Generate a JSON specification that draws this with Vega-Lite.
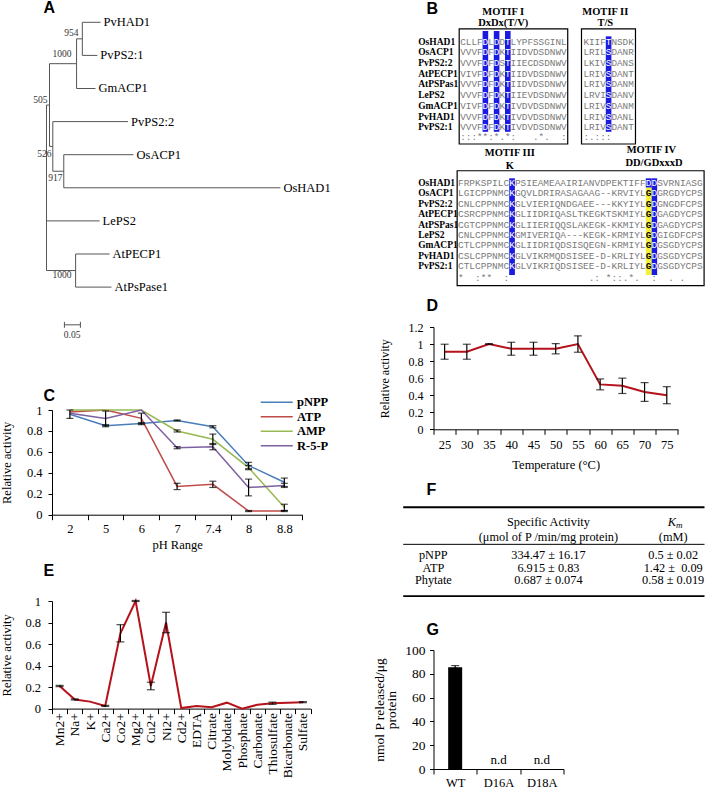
{
"$schema":"https://vega.github.io/schema/vega-lite/v6.json",
"background":"white",
"padding":{"left":0,"top":0,"right":0,"bottom":0},
"spacing":41.5,
"resolve":{"scale":{"color":"independent"},"legend":{"color":"independent"}},
"config":{
 "view":{"stroke":null},
 "font":"Liberation Serif",
 "text":{"font":"Liberation Serif","color":"#000"},
 "axis":{"labelFont":"Liberation Serif","titleFont":"Liberation Serif","labelColor":"#000","titleColor":"#000","domainColor":"#000","tickColor":"#000","grid":false,"titleFontWeight":"normal","labelFontSize":12.5,"titleFontSize":12.5,"tickSize":4,"labelOverlap":false,"labelBound":false,"domainWidth":1,"tickWidth":1},
 "axisY":{"labelOverlap":false},
 "axisQuantitative":{"labelOverlap":false},
 "title":{"font":"Liberation Sans","fontSize":16,"fontWeight":"bold","anchor":"start","frame":"group","color":"#000","offset":0,"baseline":"alphabetic"}
},
"hconcat":[
{"vconcat":[
{
 "width":273.2,"height":317,
 "title":{"text":"A","dx":-8.5,"dy":9,"offset":0},
 "layer":[
  {"data":{"values":[
   {"x":0.112,"x2":0.169,"y":1,"y2":1},
   {"x":0.112,"x2":0.159,"y":2,"y2":2},
   {"x":0.094,"x2":0.112,"y":1.5,"y2":1.5},
   {"x":0.094,"x2":0.153,"y":3,"y2":3},
   {"x":0.0094,"x2":0.094,"y":2.25,"y2":2.25},
   {"x":0.0197,"x2":0.255,"y":4,"y2":4},
   {"x":0.054,"x2":0.272,"y":5,"y2":5},
   {"x":0.054,"x2":0.731,"y":6,"y2":6},
   {"x":0.0197,"x2":0.054,"y":5.5,"y2":5.5},
   {"x":0.0094,"x2":0.0197,"y":4.75,"y2":4.75},
   {"x":0,"x2":0.0094,"y":3.5,"y2":3.5},
   {"x":0,"x2":0.166,"y":7,"y2":7},
   {"x":0.091,"x2":0.197,"y":8,"y2":8},
   {"x":0.091,"x2":0.203,"y":9,"y2":9},
   {"x":0,"x2":0.091,"y":8.5,"y2":8.5},
   {"x":0.112,"x2":0.112,"y":1,"y2":2},
   {"x":0.094,"x2":0.094,"y":1.5,"y2":3},
   {"x":0.0094,"x2":0.0094,"y":2.25,"y2":4.75},
   {"x":0.0197,"x2":0.0197,"y":4,"y2":5.5},
   {"x":0.054,"x2":0.054,"y":5,"y2":6},
   {"x":0,"x2":0,"y":3.5,"y2":8.5},
   {"x":0.091,"x2":0.091,"y":8,"y2":9},
   {"x":0.056,"x2":0.106,"y":10.14,"y2":10.14},
   {"x":0.056,"x2":0.056,"y":10.05,"y2":10.23},
   {"x":0.106,"x2":0.106,"y":10.05,"y2":10.23}
  ]},
  "mark":{"type":"rule","color":"#555","strokeWidth":1},
  "encoding":{
   "x":{"field":"x","type":"quantitative","scale":{"domain":[0.0172,0.871],"nice":false,"zero":false},"axis":null},
   "x2":{"field":"x2"},
   "y":{"field":"y","type":"quantitative","scale":{"domain":[0.5378,10.115],"reverse":true,"nice":false,"zero":false},"axis":null},
   "y2":{"field":"y2"}}},
  {"data":{"values":[
   {"name":"PvHAD1","x":0.169,"y":1},{"name":"PvPS2:1","x":0.159,"y":2},{"name":"GmACP1","x":0.153,"y":3},
   {"name":"PvPS2:2","x":0.255,"y":4},{"name":"OsACP1","x":0.272,"y":5},{"name":"OsHAD1","x":0.731,"y":6},
   {"name":"LePS2","x":0.166,"y":7},{"name":"AtPECP1","x":0.197,"y":8},{"name":"AtPsPase1","x":0.203,"y":9}]},
   "mark":{"type":"text","align":"left","baseline":"middle","dx":3,"fontSize":12.5},
   "encoding":{
    "x":{"field":"x","type":"quantitative","scale":{"domain":[0.0172,0.871],"nice":false,"zero":false},"axis":null},
    "y":{"field":"y","type":"quantitative","scale":{"domain":[0.5378,10.115],"reverse":true,"nice":false,"zero":false},"axis":null},
    "text":{"field":"name"}}},
  {"data":{"values":[
   {"t":"954","x":0.1,"y":1.32},{"t":"1000","x":0.078,"y":1.96},{"t":"505","x":0.003,"y":3.35},
   {"t":"526","x":0.0156,"y":4.98},{"t":"917","x":0.05,"y":5.7},{"t":"1000","x":0.078,"y":8.63},{"t":"0.05","x":0.106,"y":10.45}]},
   "mark":{"type":"text","align":"right","baseline":"middle","fontSize":9.5,"color":"#333"},
   "encoding":{
    "x":{"field":"x","type":"quantitative","scale":{"domain":[0.0172,0.871],"nice":false,"zero":false},"axis":null},
    "y":{"field":"y","type":"quantitative","scale":{"domain":[0.5378,10.115],"reverse":true,"nice":false,"zero":false},"axis":null},
    "text":{"field":"t"}}}
 ]
},
{
 "width":250.2,"height":104.7,
 "title":{"text":"C","dx":-8.5,"dy":8,"offset":0},
 "data":{"values":[
  {"pH":"2","s":"pNPP","v":0.96,"e":0.04},{"pH":"5","s":"pNPP","v":0.85,"e":0.01},{"pH":"6","s":"pNPP","v":0.87,"e":0.01},{"pH":"7","s":"pNPP","v":0.9,"e":0.005},{"pH":"7.4","s":"pNPP","v":0.84,"e":0.01},{"pH":"8","s":"pNPP","v":0.47,"e":0.03},{"pH":"8.8","s":"pNPP","v":0.31,"e":0.04},
  {"pH":"2","s":"ATP","v":0.98,"e":0},{"pH":"5","s":"ATP","v":1.0,"e":0},{"pH":"6","s":"ATP","v":0.92,"e":0.05},{"pH":"7","s":"ATP","v":0.27,"e":0.03},{"pH":"7.4","s":"ATP","v":0.29,"e":0.03},{"pH":"8","s":"ATP","v":0.035,"e":0.005},{"pH":"8.8","s":"ATP","v":0.035,"e":0.005},
  {"pH":"2","s":"AMP","v":1.0,"e":0},{"pH":"5","s":"AMP","v":1.0,"e":0},{"pH":"6","s":"AMP","v":1.0,"e":0},{"pH":"7","s":"AMP","v":0.8,"e":0.01},{"pH":"7.4","s":"AMP","v":0.72,"e":0.05},{"pH":"8","s":"AMP","v":0.45,"e":0.02},{"pH":"8.8","s":"AMP","v":0.07,"e":0.03},
  {"pH":"2","s":"R-5-P","v":0.97,"e":0},{"pH":"5","s":"R-5-P","v":0.92,"e":0.07},{"pH":"6","s":"R-5-P","v":1.0,"e":0},{"pH":"7","s":"R-5-P","v":0.64,"e":0.01},{"pH":"7.4","s":"R-5-P","v":0.65,"e":0.03},{"pH":"8","s":"R-5-P","v":0.26,"e":0.08},{"pH":"8.8","s":"R-5-P","v":0.28,"e":0.02}
 ]},
 "layer":[
  {"mark":{"type":"line","strokeWidth":1.5},
   "encoding":{
    "x":{"field":"pH","type":"nominal","sort":["2","5","6","7","7.4","8","8.8"],"scale":{"type":"band","paddingInner":0,"paddingOuter":0},"axis":{"title":"pH Range","labelAngle":0,"tickBand":"extent","tickSize":5,"labelPadding":3,"titlePadding":3,"labelOverlap":false}},
    "y":{"field":"v","type":"quantitative","scale":{"domain":[0,1],"nice":false},"axis":{"title":"Relative activity","values":[0,0.2,0.4,0.6,0.8,1],"format":".1~f","labelPadding":6,"titlePadding":12.5,"labelOverlap":false}},
    "color":{"field":"s","type":"nominal","scale":{"domain":["pNPP","ATP","AMP","R-5-P"],"range":["#4a7ebb","#be4b48","#98b954","#7d60a0"]},
     "legend":{"title":null,"orient":"none","legendX":206.5,"legendY":-14,"symbolType":"M-1,0H7","symbolSize":64,"symbolStrokeWidth":1.5,"labelFont":"Liberation Serif","labelFontWeight":"bold","labelFontSize":12.5,"labelColor":"#000","rowPadding":1.5,"labelOffset":26,"padding":0}}}},
  {"transform":[{"filter":"datum.e > 0"}],
   "mark":{"type":"errorbar","color":"#000","ticks":{"size":7},"thickness":1.2},
   "encoding":{
    "x":{"field":"pH","type":"nominal","sort":["2","5","6","7","7.4","8","8.8"],"axis":{"title":"pH Range","labelAngle":0,"tickBand":"extent","tickSize":5,"labelPadding":3,"titlePadding":3,"labelOverlap":false}},
    "y":{"field":"v","type":"quantitative","axis":{"title":"Relative activity","values":[0,0.2,0.4,0.6,0.8,1],"format":".1~f","labelPadding":6,"titlePadding":12.5,"labelOverlap":false}},
    "yError":{"field":"e"}}}
 ]
},
{
 "width":258.5,"height":107.6,
 "title":{"text":"E","dx":-8.5,"dy":-16,"offset":0},
 "data":{"values":[
  {"c":"Mn2+","v":0.21,"e":0.005},{"c":"Na+","v":0.085,"e":0.005},{"c":"K+","v":0.065,"e":0},{"c":"Ca2+","v":0.025,"e":0.005},
  {"c":"Co2+","v":0.7,"e":0.08},{"c":"Mg2+","v":1.0,"e":0.005},{"c":"Cu2+","v":0.21,"e":0.035},{"c":"Ni2+","v":0.8,"e":0.095},
  {"c":"Cd2+","v":0.005,"e":0},{"c":"EDTA","v":0.025,"e":0},{"c":"Citrate","v":0.012,"e":0},{"c":"Molybdate","v":0.055,"e":0},
  {"c":"Phosphate","v":0.0,"e":0},{"c":"Carbonate","v":0.035,"e":0},{"c":"Thiosulfate","v":0.05,"e":0.01},{"c":"Bicarbonate","v":0.055,"e":0},{"c":"Sulfate","v":0.06,"e":0.005}
 ]},
 "layer":[
  {"mark":{"type":"line","color":"#b5121b","strokeWidth":2},
   "encoding":{
    "x":{"field":"c","type":"nominal","sort":["Mn2+","Na+","K+","Ca2+","Co2+","Mg2+","Cu2+","Ni2+","Cd2+","EDTA","Citrate","Molybdate","Phosphate","Carbonate","Thiosulfate","Bicarbonate","Sulfate"],"scale":{"type":"band","paddingInner":0,"paddingOuter":0},"axis":{"title":null,"labelAngle":-90,"tickBand":"extent","tickSize":5,"labelPadding":-1,"labelFontSize":13.5,"labelOverlap":false}},
    "y":{"field":"v","type":"quantitative","scale":{"domain":[0,1],"nice":false},"axis":{"title":"Relative activity","values":[0,0.2,0.4,0.6,0.8,1],"format":".1~f","labelPadding":7.5,"titlePadding":11.5,"labelOverlap":false}}}},
  {"transform":[{"filter":"datum.e > 0"}],
   "mark":{"type":"errorbar","color":"#000","ticks":{"size":8},"thickness":1.2},
   "encoding":{
    "x":{"field":"c","type":"nominal","sort":["Mn2+","Na+","K+","Ca2+","Co2+","Mg2+","Cu2+","Ni2+","Cd2+","EDTA","Citrate","Molybdate","Phosphate","Carbonate","Thiosulfate","Bicarbonate","Sulfate"],"axis":{"title":null,"labelAngle":-90,"tickBand":"extent","tickSize":5,"labelPadding":-1,"labelFontSize":13.5,"labelOverlap":false}},
    "y":{"field":"v","type":"quantitative","axis":{"title":"Relative activity","values":[0,0.2,0.4,0.6,0.8,1],"format":".1~f","labelPadding":7.5,"titlePadding":11.5,"labelOverlap":false}},
    "yError":{"field":"e"}}}
 ]
}
],"bounds":"flush","spacing":86,"resolve":{"scale":{"color":"independent"},"legend":{"color":"independent"}}},
{"vconcat":[
{
 "width":271,"height":309.7,
 "title":{"text":"B","dx":-7,"dy":10,"offset":0},
 "layer":[
  {"data":{"values":[
   {"name":"OsHAD1","row":0,"s1":"CLLF","a":"D","s2":"L","b":"D","s3":"D","c":"T","s4":"LYPFSSGINL","t1":"KIIF","d":"T","t2":"NSDK"},
   {"name":"OsACP1","row":1,"s1":"VVVF","a":"D","s2":"F","b":"D","s3":"K","c":"T","s4":"IIDVDSDNWV","t1":"LRIL","d":"S","t2":"DANR"},
   {"name":"PvPS2:2","row":2,"s1":"VVVF","a":"D","s2":"F","b":"D","s3":"S","c":"T","s4":"IIECDSDNWV","t1":"LKIV","d":"S","t2":"DANS"},
   {"name":"AtPECP1","row":3,"s1":"VIVF","a":"D","s2":"F","b":"D","s3":"K","c":"T","s4":"IIDVDSDNWV","t1":"LRIV","d":"S","t2":"DANT"},
   {"name":"AtPSPas1","row":4,"s1":"VVVF","a":"D","s2":"F","b":"D","s3":"K","c":"T","s4":"IIDVDSDNWV","t1":"LRIV","d":"S","t2":"DANM"},
   {"name":"LePS2","row":5,"s1":"VVVF","a":"D","s2":"F","b":"D","s3":"K","c":"T","s4":"IIEVDSDNWV","t1":"LRVI","d":"S","t2":"DANV"},
   {"name":"GmACP1","row":6,"s1":"VIVF","a":"D","s2":"F","b":"D","s3":"K","c":"T","s4":"IVDVDSDNWV","t1":"LRIV","d":"S","t2":"DANM"},
   {"name":"PvHAD1","row":7,"s1":"VVVF","a":"D","s2":"F","b":"D","s3":"K","c":"T","s4":"IVDVDSDNWV","t1":"LRIV","d":"S","t2":"DANL"},
   {"name":"PvPS2:1","row":8,"s1":"VVVF","a":"D","s2":"F","b":"D","s3":"K","c":"T","s4":"IVDVDSDNWV","t1":"LRIV","d":"S","t2":"DANT"},
   {"name":"","row":8.95,"s1":":::**:*.*:\u00a0\u00a0\u00a0.*.\u00a0\u00a0:","a":"","s2":"","b":"","s3":"","c":"","s4":"","t1":"\u00a0\u00a0\u00a0:.:::","d":"","t2":""}
  ]},
  "layer":[
   {"data":{"values":[
     {"c0":4,"c1":5,"r0":-1.0,"r1":8.42,"k":"b"},
     {"c0":6,"c1":7,"r0":-1.0,"r1":8.42,"k":"b"},
     {"c0":8,"c1":9,"r0":-1.0,"r1":8.42,"k":"b"},
     {"c0":26,"c1":27,"r0":-0.5,"r1":8.42,"k":"b"}]},
    "mark":{"type":"rect"},
    "encoding":{
     "x":{"field":"c0","type":"quantitative","scale":{"domain":[-4.768,43.625],"nice":false,"zero":false},"axis":null},
     "x2":{"field":"c1"},
     "y":{"field":"r0","type":"quantitative","scale":{"domain":[-3.243,25.701],"reverse":true,"nice":false,"zero":false},"axis":null},
     "y2":{"field":"r1"},
     "color":{"field":"k","type":"nominal","scale":{"domain":["b","y"],"range":["#1a1ae0","#f2f23a"]},"legend":null}}},
   {"data":{"values":[{"c0":-0.18,"c1":19.2,"r0":-1.19,"r1":9.56},{"c0":21.66,"c1":31.3,"r0":-1.19,"r1":9.56}]},
    "mark":{"type":"rect","fillOpacity":0,"stroke":"#000","strokeWidth":1.2},
    "encoding":{
     "x":{"field":"c0","type":"quantitative","scale":{"domain":[-4.768,43.625],"nice":false,"zero":false},"axis":null},
     "x2":{"field":"c1"},
     "y":{"field":"r0","type":"quantitative","scale":{"domain":[-3.243,25.701],"reverse":true,"nice":false,"zero":false},"axis":null},
     "y2":{"field":"r1"}}},
   {"mark":{"type":"text","font":"Liberation Mono","fontSize":9.33,"align":"left","baseline":"middle","color":"#7a7a7a"},
    "encoding":{"x":{"datum":0,"type":"quantitative","scale":{"domain":[-4.768,43.625],"nice":false,"zero":false},"axis":null},
     "y":{"field":"row","type":"quantitative","scale":{"domain":[-3.243,25.701],"reverse":true,"nice":false,"zero":false},"axis":null},
     "text":{"field":"s1"}}},
   {"mark":{"type":"text","font":"Liberation Mono","fontSize":9.33,"align":"left","baseline":"middle","color":"#7a7a7a"},
    "encoding":{"x":{"datum":5,"type":"quantitative","scale":{"domain":[-4.768,43.625],"nice":false,"zero":false},"axis":null},
     "y":{"field":"row","type":"quantitative","scale":{"domain":[-3.243,25.701],"reverse":true,"nice":false,"zero":false},"axis":null},
     "text":{"field":"s2"}}},
   {"mark":{"type":"text","font":"Liberation Mono","fontSize":9.33,"align":"left","baseline":"middle","color":"#7a7a7a"},
    "encoding":{"x":{"datum":7,"type":"quantitative","scale":{"domain":[-4.768,43.625],"nice":false,"zero":false},"axis":null},
     "y":{"field":"row","type":"quantitative","scale":{"domain":[-3.243,25.701],"reverse":true,"nice":false,"zero":false},"axis":null},
     "text":{"field":"s3"}}},
   {"mark":{"type":"text","font":"Liberation Mono","fontSize":9.33,"align":"left","baseline":"middle","color":"#7a7a7a"},
    "encoding":{"x":{"datum":9,"type":"quantitative","scale":{"domain":[-4.768,43.625],"nice":false,"zero":false},"axis":null},
     "y":{"field":"row","type":"quantitative","scale":{"domain":[-3.243,25.701],"reverse":true,"nice":false,"zero":false},"axis":null},
     "text":{"field":"s4"}}},
   {"mark":{"type":"text","font":"Liberation Mono","fontSize":9.33,"align":"left","baseline":"middle","color":"#7a7a7a"},
    "encoding":{"x":{"datum":22,"type":"quantitative","scale":{"domain":[-4.768,43.625],"nice":false,"zero":false},"axis":null},
     "y":{"field":"row","type":"quantitative","scale":{"domain":[-3.243,25.701],"reverse":true,"nice":false,"zero":false},"axis":null},
     "text":{"field":"t1"}}},
   {"mark":{"type":"text","font":"Liberation Mono","fontSize":9.33,"align":"left","baseline":"middle","color":"#7a7a7a"},
    "encoding":{"x":{"datum":27,"type":"quantitative","scale":{"domain":[-4.768,43.625],"nice":false,"zero":false},"axis":null},
     "y":{"field":"row","type":"quantitative","scale":{"domain":[-3.243,25.701],"reverse":true,"nice":false,"zero":false},"axis":null},
     "text":{"field":"t2"}}},
   {"mark":{"type":"text","font":"Liberation Mono","fontSize":9.33,"align":"left","baseline":"middle","color":"#fff"},
    "encoding":{"x":{"datum":4,"type":"quantitative","scale":{"domain":[-4.768,43.625],"nice":false,"zero":false},"axis":null},
     "y":{"field":"row","type":"quantitative","scale":{"domain":[-3.243,25.701],"reverse":true,"nice":false,"zero":false},"axis":null},
     "text":{"field":"a"}}},
   {"mark":{"type":"text","font":"Liberation Mono","fontSize":9.33,"align":"left","baseline":"middle","color":"#fff"},
    "encoding":{"x":{"datum":6,"type":"quantitative","scale":{"domain":[-4.768,43.625],"nice":false,"zero":false},"axis":null},
     "y":{"field":"row","type":"quantitative","scale":{"domain":[-3.243,25.701],"reverse":true,"nice":false,"zero":false},"axis":null},
     "text":{"field":"b"}}},
   {"mark":{"type":"text","font":"Liberation Mono","fontSize":9.33,"align":"left","baseline":"middle","color":"#fff"},
    "encoding":{"x":{"datum":8,"type":"quantitative","scale":{"domain":[-4.768,43.625],"nice":false,"zero":false},"axis":null},
     "y":{"field":"row","type":"quantitative","scale":{"domain":[-3.243,25.701],"reverse":true,"nice":false,"zero":false},"axis":null},
     "text":{"field":"c"}}},
   {"mark":{"type":"text","font":"Liberation Mono","fontSize":9.33,"align":"left","baseline":"middle","color":"#fff"},
    "encoding":{"x":{"datum":26,"type":"quantitative","scale":{"domain":[-4.768,43.625],"nice":false,"zero":false},"axis":null},
     "y":{"field":"row","type":"quantitative","scale":{"domain":[-3.243,25.701],"reverse":true,"nice":false,"zero":false},"axis":null},
     "text":{"field":"d"}}},
   {"mark":{"type":"text","font":"Liberation Serif","fontWeight":"bold","fontSize":9.5,"align":"left","baseline":"middle","color":"#000"},
    "encoding":{"x":{"datum":-7.5,"type":"quantitative","scale":{"domain":[-4.768,43.625],"nice":false,"zero":false},"axis":null},
     "y":{"field":"row","type":"quantitative","scale":{"domain":[-3.243,25.701],"reverse":true,"nice":false,"zero":false},"axis":null},
     "text":{"field":"name"}}},
   {"data":{"values":[{"t":"MOTIF I","c":7.68,"r":-2.8},{"t":"DxDx(T/V)","c":7.68,"r":-1.75},{"t":"MOTIF II","c":25.91,"r":-2.8},{"t":"T/S","c":25.91,"r":-1.75}]},
    "mark":{"type":"text","font":"Liberation Serif","fontWeight":"bold","fontSize":10.5,"align":"center","baseline":"middle","color":"#000"},
    "encoding":{"x":{"field":"c","type":"quantitative","scale":{"domain":[-4.768,43.625],"nice":false,"zero":false},"axis":null},
     "y":{"field":"r","type":"quantitative","scale":{"domain":[-3.243,25.701],"reverse":true,"nice":false,"zero":false},"axis":null},
     "text":{"field":"t"}}}
  ]},
  {"data":{"values":[
   {"name":"OsHAD1","row":0,"u1":"FRPKSPILC","a":"K","u2":"PSIEAMEAAIRIANVDPEKTIFF","b":"D","g":"","c":"D","u3":"SVRNIASG"},
   {"name":"OsACP1","row":1,"u1":"LGICPPNMC","a":"K","u2":"GQVLDRIRASAGAAG--KRVIYL","b":"","g":"G","c":"D","u3":"GRGDYCPS"},
   {"name":"PvPS2:2","row":2,"u1":"CNLCPPNMC","a":"K","u2":"GLVIERIQNDGAEE---KKYIYL","b":"","g":"G","c":"D","u3":"GNGDFCPS"},
   {"name":"AtPECP1","row":3,"u1":"CSRCPPNMC","a":"K","u2":"GLIIDRIQASLTKEGKTSKMIYL","b":"","g":"G","c":"D","u3":"GAGDYCPS"},
   {"name":"AtPSPas1","row":4,"u1":"CGTCPPNMC","a":"K","u2":"GLIIERIQQSLAKEGK-KKMIYL","b":"","g":"G","c":"D","u3":"GAGDYCPS"},
   {"name":"LePS2","row":5,"u1":"CNLCPPNMC","a":"K","u2":"GMIVERIQA---KEGK-KRMIYL","b":"","g":"G","c":"D","u3":"GIGDFCPS"},
   {"name":"GmACP1","row":6,"u1":"CTLCPPNMC","a":"K","u2":"GLIIDRIQDSISQEGN-KRMIYL","b":"","g":"G","c":"D","u3":"GSGDYCPS"},
   {"name":"PvHAD1","row":7,"u1":"CSLCPPNMC","a":"K","u2":"GLVIKRMQDSISEE-D-KRLIYL","b":"","g":"G","c":"D","u3":"GSGDYCPS"},
   {"name":"PvPS2:1","row":8,"u1":"CTLCPPNMC","a":"K","u2":"GLVIKRIQDSISEE-D-KRLIYL","b":"","g":"G","c":"D","u3":"GSGDYCPS"},
   {"name":"","row":9.13,"u1":"\u00a0\u00a0\u00a0*\u00a0\u00a0:**\u00a0\u00a0:\u00a0\u00a0\u00a0\u00a0\u00a0\u00a0\u00a0\u00a0\u00a0\u00a0\u00a0\u00a0\u00a0\u00a0.:\u00a0*::.*.\u00a0\u00a0:\u00a0\u00a0.\u00a0.","a":"","u2":"","b":"","g":"","c":"","u3":""}
  ]},
  "layer":[
   {"data":{"values":[
     {"c0":9,"c1":10,"r0":-0.45,"r1":8.85,"k":"b"},
     {"c0":34,"c1":35,"r0":-0.45,"r1":8.85,"k":"b"},
     {"c0":33,"c1":34,"r0":-0.45,"r1":0.45,"k":"b"},
     {"c0":33,"c1":34,"r0":0.45,"r1":8.85,"k":"y"}]},
    "mark":{"type":"rect"},
    "encoding":{
     "x":{"field":"c0","type":"quantitative","scale":{"domain":[-4.306,43.322],"nice":false,"zero":false},"axis":null},
     "x2":{"field":"c1"},
     "y":{"field":"r0","type":"quantitative","scale":{"domain":[-16.923,12.856],"reverse":true,"nice":false,"zero":false},"axis":null},
     "y2":{"field":"r1"},
     "color":{"field":"k","type":"nominal","scale":{"domain":["b","y"],"range":["#1a1ae0","#f2f23a"]},"legend":null}}},
   {"data":{"values":[{"c0":-0.15,"c1":43.25,"r0":-1.18,"r1":9.86}]},
    "mark":{"type":"rect","fillOpacity":0,"stroke":"#000","strokeWidth":1.2},
    "encoding":{
     "x":{"field":"c0","type":"quantitative","scale":{"domain":[-4.306,43.322],"nice":false,"zero":false},"axis":null},
     "x2":{"field":"c1"},
     "y":{"field":"r0","type":"quantitative","scale":{"domain":[-16.923,12.856],"reverse":true,"nice":false,"zero":false},"axis":null},
     "y2":{"field":"r1"}}},
   {"mark":{"type":"text","font":"Liberation Mono","fontSize":9.48,"align":"left","baseline":"middle","color":"#7a7a7a"},
    "encoding":{"x":{"datum":0,"type":"quantitative","scale":{"domain":[-4.306,43.322],"nice":false,"zero":false},"axis":null},
     "y":{"field":"row","type":"quantitative","scale":{"domain":[-16.923,12.856],"reverse":true,"nice":false,"zero":false},"axis":null},
     "text":{"field":"u1"}}},
   {"mark":{"type":"text","font":"Liberation Mono","fontSize":9.48,"align":"left","baseline":"middle","color":"#7a7a7a"},
    "encoding":{"x":{"datum":10,"type":"quantitative","scale":{"domain":[-4.306,43.322],"nice":false,"zero":false},"axis":null},
     "y":{"field":"row","type":"quantitative","scale":{"domain":[-16.923,12.856],"reverse":true,"nice":false,"zero":false},"axis":null},
     "text":{"field":"u2"}}},
   {"mark":{"type":"text","font":"Liberation Mono","fontSize":9.48,"align":"left","baseline":"middle","color":"#7a7a7a"},
    "encoding":{"x":{"datum":35,"type":"quantitative","scale":{"domain":[-4.306,43.322],"nice":false,"zero":false},"axis":null},
     "y":{"field":"row","type":"quantitative","scale":{"domain":[-16.923,12.856],"reverse":true,"nice":false,"zero":false},"axis":null},
     "text":{"field":"u3"}}},
   {"mark":{"type":"text","font":"Liberation Mono","fontSize":9.48,"align":"left","baseline":"middle","color":"#fff"},
    "encoding":{"x":{"datum":9,"type":"quantitative","scale":{"domain":[-4.306,43.322],"nice":false,"zero":false},"axis":null},
     "y":{"field":"row","type":"quantitative","scale":{"domain":[-16.923,12.856],"reverse":true,"nice":false,"zero":false},"axis":null},
     "text":{"field":"a"}}},
   {"mark":{"type":"text","font":"Liberation Mono","fontSize":9.48,"align":"left","baseline":"middle","color":"#fff"},
    "encoding":{"x":{"datum":33,"type":"quantitative","scale":{"domain":[-4.306,43.322],"nice":false,"zero":false},"axis":null},
     "y":{"field":"row","type":"quantitative","scale":{"domain":[-16.923,12.856],"reverse":true,"nice":false,"zero":false},"axis":null},
     "text":{"field":"b"}}},
   {"mark":{"type":"text","font":"Liberation Mono","fontSize":9.48,"align":"left","baseline":"middle","color":"#fff"},
    "encoding":{"x":{"datum":34,"type":"quantitative","scale":{"domain":[-4.306,43.322],"nice":false,"zero":false},"axis":null},
     "y":{"field":"row","type":"quantitative","scale":{"domain":[-16.923,12.856],"reverse":true,"nice":false,"zero":false},"axis":null},
     "text":{"field":"c"}}},
   {"mark":{"type":"text","font":"Liberation Mono","fontWeight":"bold","fontSize":9.48,"align":"left","baseline":"middle","color":"#000"},
    "encoding":{"x":{"datum":33,"type":"quantitative","scale":{"domain":[-4.306,43.322],"nice":false,"zero":false},"axis":null},
     "y":{"field":"row","type":"quantitative","scale":{"domain":[-16.923,12.856],"reverse":true,"nice":false,"zero":false},"axis":null},
     "text":{"field":"g"}}},
   {"mark":{"type":"text","font":"Liberation Serif","fontWeight":"bold","fontSize":9.5,"align":"left","baseline":"middle","color":"#000"},
    "encoding":{"x":{"datum":-7.0,"type":"quantitative","scale":{"domain":[-4.306,43.322],"nice":false,"zero":false},"axis":null},
     "y":{"field":"row","type":"quantitative","scale":{"domain":[-16.923,12.856],"reverse":true,"nice":false,"zero":false},"axis":null},
     "text":{"field":"name"}}},
   {"data":{"values":[{"t":"MOTIF III","c":9.1,"r":-2.88},{"t":"K","c":9.1,"r":-1.66},{"t":"MOTIF IV","c":34.0,"r":-3.17},{"t":"DD/GDxxxD","c":34.45,"r":-1.92}]},
    "mark":{"type":"text","font":"Liberation Serif","fontWeight":"bold","fontSize":10.5,"align":"center","baseline":"middle","color":"#000"},
    "encoding":{"x":{"field":"c","type":"quantitative","scale":{"domain":[-4.306,43.322],"nice":false,"zero":false},"axis":null},
     "y":{"field":"r","type":"quantitative","scale":{"domain":[-16.923,12.856],"reverse":true,"nice":false,"zero":false},"axis":null},
     "text":{"field":"t"}}}
  ]}
 ],
 "resolve":{"scale":{"x":"independent","y":"independent","color":"independent"}}
},
{
 "width":244.4,"height":102.3,
 "title":{"text":"D","dx":-7,"dy":-7.5,"offset":0},
 "data":{"values":[
  {"t":25,"v":0.91,"e":0.088},{"t":30,"v":0.91,"e":0.088},{"t":35,"v":1.0,"e":0.003},{"t":40,"v":0.945,"e":0.076},{"t":45,"v":0.945,"e":0.076},{"t":50,"v":0.945,"e":0.06},
  {"t":55,"v":1.0,"e":0.096},{"t":60,"v":0.527,"e":0.064},{"t":65,"v":0.51,"e":0.09},{"t":70,"v":0.4375,"e":0.11},{"t":75,"v":0.4,"e":0.1}
 ]},
 "layer":[
  {"mark":{"type":"line","color":"#b5121b","strokeWidth":2},
   "encoding":{
    "x":{"field":"t","type":"ordinal","scale":{"type":"band","paddingInner":0,"paddingOuter":0},"axis":{"title":"Temperature (°C)","labelAngle":0,"tickBand":"extent","tickSize":5,"labelPadding":4,"titlePadding":8,"labelOverlap":false}},
    "y":{"field":"v","type":"quantitative","scale":{"domain":[0,1.2],"nice":false},"axis":{"title":"Relative activity","values":[0,0.2,0.4,0.6,0.8,1,1.2],"format":".1~f","labelFontSize":12,"titleFontSize":12,"labelPadding":6.6,"titlePadding":16,"labelOverlap":false}}}},
  {"mark":{"type":"errorbar","color":"#000","ticks":{"size":8},"thickness":1.2},
   "encoding":{
    "x":{"field":"t","type":"ordinal","axis":{"title":"Temperature (°C)","labelAngle":0,"tickBand":"extent","tickSize":5,"labelPadding":4,"titlePadding":8,"labelOverlap":false}},
    "y":{"field":"v","type":"quantitative","axis":{"title":"Relative activity","values":[0,0.2,0.4,0.6,0.8,1,1.2],"format":".1~f","labelFontSize":12,"titleFontSize":12,"labelPadding":6.6,"titlePadding":16,"labelOverlap":false}},
    "yError":{"field":"e"}}}
 ]
},
{
 "width":271,"height":199.3,
 "title":{"text":"F","dx":-7,"dy":57.5,"offset":0},
 "layer":[
  {"data":{"values":[{"r":-1.34},{"r":6.73}]},
   "mark":{"type":"rule","strokeWidth":1.8,"color":"#000"},
   "encoding":{"x":{"datum":0,"type":"quantitative","scale":{"domain":[10.056,100],"nice":false,"zero":false},"axis":null},"x2":{"datum":100},
    "y":{"field":"r","type":"quantitative","scale":{"domain":[-7.455,10.664],"reverse":true,"nice":false,"zero":false},"axis":null}}},
  {"data":{"values":[{"r":2.03}]},
   "mark":{"type":"rule","strokeWidth":1,"color":"#000"},
   "encoding":{"x":{"datum":0,"type":"quantitative","scale":{"domain":[10.056,100],"nice":false,"zero":false},"axis":null},"x2":{"datum":100},
    "y":{"field":"r","type":"quantitative","scale":{"domain":[-7.455,10.664],"reverse":true,"nice":false,"zero":false},"axis":null}}},
  {"data":{"values":[
    {"r":0,"name":"","sa":"Specific Activity","km":""},
    {"r":1.36,"name":"","sa":"(μmol of P /min/mg protein)","km":"(mM)"},
    {"r":3,"name":"pNPP","sa":"334.47 ± 16.17","km":"0.5 ± 0.02"},
    {"r":4.14,"name":"ATP","sa":"6.915 ± 0.83","km":"1.42 ±\u00a0 0.09"},
    {"r":5.28,"name":"Phytate","sa":"0.687 ± 0.074","km":"0.58 ± 0.019"}]},
   "layer":[
    {"mark":{"type":"text","fontSize":12.3,"align":"center","baseline":"middle"},
     "encoding":{"x":{"datum":10,"type":"quantitative","scale":{"domain":[10.056,100],"nice":false,"zero":false},"axis":null},
      "y":{"field":"r","type":"quantitative","scale":{"domain":[-7.455,10.664],"reverse":true,"nice":false,"zero":false},"axis":null},
      "text":{"field":"name"}}},
    {"mark":{"type":"text","fontSize":12.3,"align":"center","baseline":"middle"},
     "encoding":{"x":{"datum":48.2,"type":"quantitative","scale":{"domain":[10.056,100],"nice":false,"zero":false},"axis":null},
      "y":{"field":"r","type":"quantitative","scale":{"domain":[-7.455,10.664],"reverse":true,"nice":false,"zero":false},"axis":null},
      "text":{"field":"sa"}}},
    {"mark":{"type":"text","fontSize":12.3,"align":"center","baseline":"middle"},
     "encoding":{"x":{"datum":89.6,"type":"quantitative","scale":{"domain":[10.056,100],"nice":false,"zero":false},"axis":null},
      "y":{"field":"r","type":"quantitative","scale":{"domain":[-7.455,10.664],"reverse":true,"nice":false,"zero":false},"axis":null},
      "text":{"field":"km"}}}
   ]},
  {"data":{"values":[{"t":"K","c":89.15,"r":0,"s":"big"},{"t":"m","c":91.6,"r":0.3,"s":"small"}]},
   "layer":[
    {"transform":[{"filter":"datum.s == 'big'"}],
     "mark":{"type":"text","fontSize":12.5,"fontStyle":"italic","align":"center","baseline":"middle"},
     "encoding":{"x":{"field":"c","type":"quantitative","scale":{"domain":[10.056,100],"nice":false,"zero":false},"axis":null},
      "y":{"field":"r","type":"quantitative","scale":{"domain":[-7.455,10.664],"reverse":true,"nice":false,"zero":false},"axis":null},
      "text":{"field":"t"}}},
    {"transform":[{"filter":"datum.s == 'small'"}],
     "mark":{"type":"text","fontSize":9,"fontStyle":"italic","align":"center","baseline":"middle"},
     "encoding":{"x":{"field":"c","type":"quantitative","scale":{"domain":[10.056,100],"nice":false,"zero":false},"axis":null},
      "y":{"field":"r","type":"quantitative","scale":{"domain":[-7.455,10.664],"reverse":true,"nice":false,"zero":false},"axis":null},
      "text":{"field":"t"}}}
   ]}
 ]
},
{
 "width":130,"height":119,
 "title":{"text":"G","dx":-7,"dy":-5.3,"offset":0},
 "data":{"values":[{"g":"WT","v":85.4,"e":1.5,"n":""},{"g":"D16A","v":0,"e":0,"n":"n.d"},{"g":"D18A","v":0,"e":0,"n":"n.d"}]},
 "layer":[
  {"mark":{"type":"bar","color":"#000","size":14},
   "encoding":{
    "x":{"field":"g","type":"nominal","sort":["WT","D16A","D18A"],"scale":{"type":"band","paddingInner":0,"paddingOuter":0},"axis":{"title":null,"labelAngle":0,"tickBand":"extent","tickSize":5,"labelPadding":2.5,"labelFontSize":12.5,"labelOverlap":false}},
    "y":{"field":"v","type":"quantitative","scale":{"domain":[0,100],"nice":false},"axis":{"title":["nmol P released/μg","protein"],"values":[0,20,40,60,80,100],"labelFontSize":13.5,"titleFontSize":13.5,"labelPadding":4.4,"titlePadding":6,"titleLineHeight":12,"labelOverlap":false}}}},
  {"transform":[{"filter":"datum.e > 0"}],
   "mark":{"type":"errorbar","color":"#000","ticks":{"size":8},"thickness":1.2},
   "encoding":{
    "x":{"field":"g","type":"nominal","sort":["WT","D16A","D18A"],"axis":{"title":null,"labelAngle":0,"tickBand":"extent","tickSize":5,"labelPadding":2.5,"labelFontSize":12.5,"labelOverlap":false}},
    "y":{"field":"v","type":"quantitative","axis":{"title":["nmol P released/μg","protein"],"values":[0,20,40,60,80,100],"labelFontSize":13.5,"titleFontSize":13.5,"labelPadding":4.4,"titlePadding":6,"titleLineHeight":12,"labelOverlap":false}},
    "yError":{"field":"e"}}},
  {"mark":{"type":"text","baseline":"bottom","dy":-2,"fontSize":13},
   "encoding":{
    "x":{"field":"g","type":"nominal","sort":["WT","D16A","D18A"],"axis":{"title":null,"labelAngle":0,"tickBand":"extent","tickSize":5,"labelPadding":2.5,"labelFontSize":12.5,"labelOverlap":false}},
    "y":{"field":"v","type":"quantitative","axis":{"title":["nmol P released/μg","protein"],"values":[0,20,40,60,80,100],"labelFontSize":13.5,"titleFontSize":13.5,"labelPadding":4.4,"titlePadding":6,"titleLineHeight":12,"labelOverlap":false}},
    "text":{"field":"n"}}}
 ]
}
],"bounds":"flush","spacing":10,"resolve":{"scale":{"color":"independent"},"legend":{"color":"independent"}}}
]
}
